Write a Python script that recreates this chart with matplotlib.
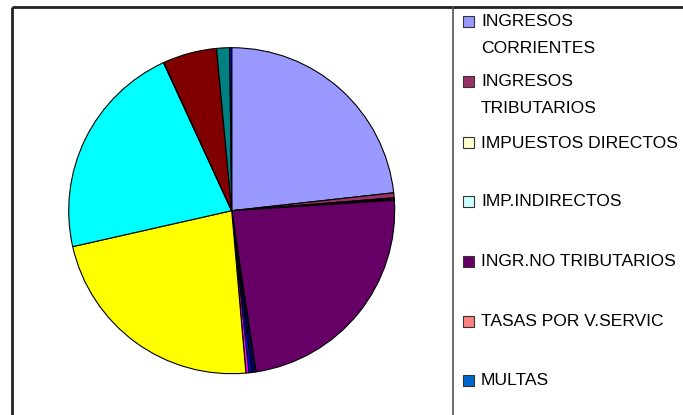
import matplotlib
matplotlib.use("Agg")
import matplotlib.pyplot as plt
from matplotlib.patches import Rectangle

plt.rcParams['font.family'] = ['Liberation Sans', 'DejaVu Sans']

# Datos (porcentajes estimados del grafico)
labels = ["INGRESOS\nCORRIENTES", "INGRESOS\nTRIBUTARIOS", "IMPUESTOS DIRECTOS",
          "IMP.INDIRECTOS", "INGR.NO TRIBUTARIOS", "TASAS POR V.SERVIC", "MULTAS",
          "s8", "s9", "s10", "s11", "s12", "s13", "s14", "s15", "s16"]
values = [23.5, 0.5, 0.12, 0.12, 23.9, 0.05, 0.3, 0.05, 0.3, 0.3,
          23.1, 21.9, 0.05, 5.4, 1.3, 0.2]
slice_colors = ["#9999FF", "#993366", "#FFFFCC", "#CCFFFF", "#660066", "#FF8080",
                "#000080", "#CCCCFF", "#0000FF", "#FF00FF", "#FFFF00", "#00FFFF",
                "#800080", "#800000", "#008080", "#0000FF"]
legend_colors = ["#9999FF", "#993366", "#FFFFCC", "#CCFFFF", "#660066", "#FF8080", "#0066CC"]
n_legend = 7

W, H = 683, 415
fig = plt.figure(figsize=(W / 100, H / 100), dpi=100)
ax = fig.add_axes([0, 0, 1, 1])

ax.pie(values, colors=slice_colors, startangle=90, counterclock=False,
       center=(231.7, H - 210.7), radius=163, frame=True,
       wedgeprops=dict(edgecolor="black", linewidth=0.8))
ax.set_xlim(0, W)
ax.set_ylim(0, H)
ax.set_aspect("auto")
ax.axis("off")

# bordes del area del grafico
ax.plot([12, W], [H - 7, H - 7], color="#222222", lw=2, solid_capstyle="butt")
ax.plot([12, 12], [0, H - 7], color="#222222", lw=2, solid_capstyle="butt")
ax.plot([453, 453], [0, H - 7], color="#555555", lw=1.2, solid_capstyle="butt")

# leyenda
rows = [22, 82, 143, 202, 261, 321, 380]
for i in range(n_legend):
    yc = H - rows[i]
    ax.add_patch(Rectangle((463, yc - 5.5), 11, 11, facecolor=legend_colors[i],
                           edgecolor="#333333", lw=0.8))
    ax.text(481, yc + 7.5, labels[i], fontsize=12.6, va="top", ha="left",
            color="black", linespacing=1.95)

fig.savefig("out.png", dpi=100)
